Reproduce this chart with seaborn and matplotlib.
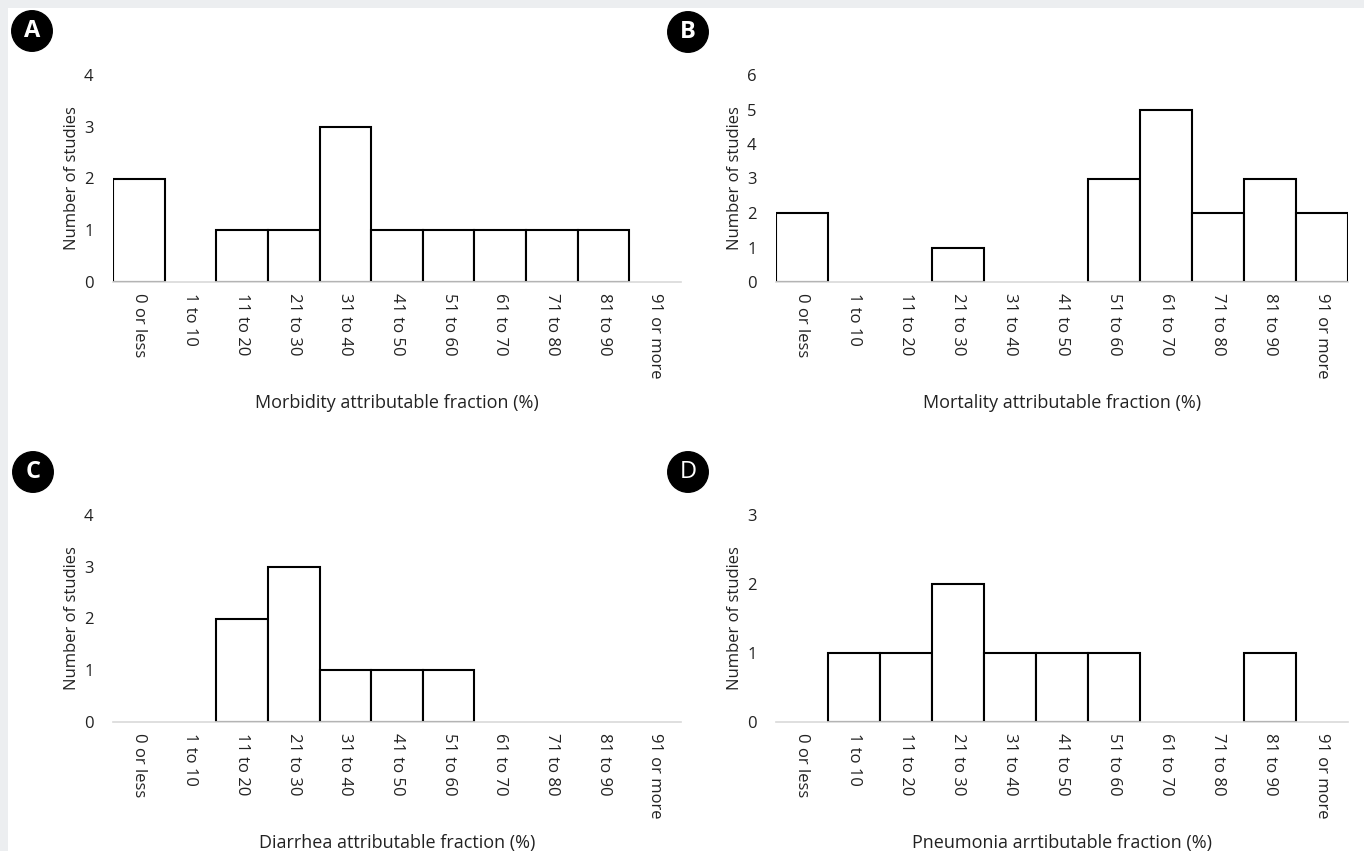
import pandas as pd
import matplotlib.pyplot as plt
import matplotlib.patches as mpatches
import seaborn as sns

# Categories shared by all four panels
bins = ["0 or less", "1 to 10", "11 to 20", "21 to 30", "31 to 40", "41 to 50",
        "51 to 60", "61 to 70", "71 to 80", "81 to 90", "91 or more"]

# Number of studies per bin
morbidity = [2, 0, 1, 1, 3, 1, 1, 1, 1, 1, 0]
mortality = [2, 0, 0, 1, 0, 0, 3, 5, 2, 3, 2]
diarrhea = [0, 0, 2, 3, 1, 1, 1, 0, 0, 0, 0]
pneumonia = [0, 1, 1, 2, 1, 1, 1, 0, 0, 1, 0]

panels = [
    ("A", morbidity, "Morbidity attributable fraction (%)", 4, "bold"),
    ("B", mortality, "Mortality attributable fraction (%)", 6, "bold"),
    ("C", diarrhea, "Diarrhea attributable fraction (%)", 4, "bold"),
    ("D", pneumonia, "Pneumonia arrtibutable fraction (%)", 3, "normal"),
]

sns.set_style("white")
plt.rcParams["font.family"] = ["Open Sans", "DejaVu Sans"]

W, H = 1364, 851
fig = plt.figure(figsize=(W / 100, H / 100), dpi=100)
fig.patch.set_facecolor("#eceef0")
fig.add_artist(mpatches.Rectangle((8 / W, 0), 1, 1 - 8 / H, transform=fig.transFigure,
                                  facecolor="white", edgecolor="none", zorder=0))

# axes boxes in pixels: left, right, top(y of max), bottom(y of 0)
boxes = [(113, 681, 75, 282), (776, 1348, 75, 282),
         (113, 681, 515, 722), (776, 1348, 515, 722)]
badges = [(32, 31), (688, 32), (33, 472), (688, 472)]

for (letter, vals, xlabel, ymax, weight), (l, r, t, b), (bx, by) in zip(panels, boxes, badges):
    ax = fig.add_axes([l / W, 1 - b / H, (r - l) / W, (b - t) / H])
    ax.set_facecolor("none")
    df = pd.DataFrame({"bin": bins, "n": vals})
    sns.barplot(data=df, x="bin", y="n", ax=ax, width=1.0, color="white",
                edgecolor="black", linewidth=1.5, zorder=2)
    for p in ax.patches:
        if p.get_height() == 0:
            p.set_linewidth(0)
    ax.set_xlim(-0.5, len(bins) - 0.5)
    ax.set_ylim(0, ymax)
    ax.set_yticks(range(ymax + 1))
    for s in ["top", "right", "left"]:
        ax.spines[s].set_visible(False)
    ax.spines["bottom"].set_color("#d9d9d9")
    ax.spines["bottom"].set_linewidth(1.2)
    ax.tick_params(axis="both", length=0, labelsize=12, colors="#222222")
    ax.tick_params(axis="y", pad=14)
    ax.tick_params(axis="x", pad=8)
    plt.setp(ax.get_xticklabels(), rotation=270, va="top", ha="center")
    ax.set_ylabel("Number of studies", fontsize=12, color="#222222", labelpad=3)
    ax.set_xlabel(xlabel, fontsize=13, color="#222222", labelpad=11)
    fig.text(bx / W, 1 - by / H, letter, color="white", fontsize=17, fontweight=weight,
             ha="center", va="center",
             bbox=dict(boxstyle="circle,pad=0.35", fc="black", ec="black"))

fig.savefig("out.png", dpi=100)
